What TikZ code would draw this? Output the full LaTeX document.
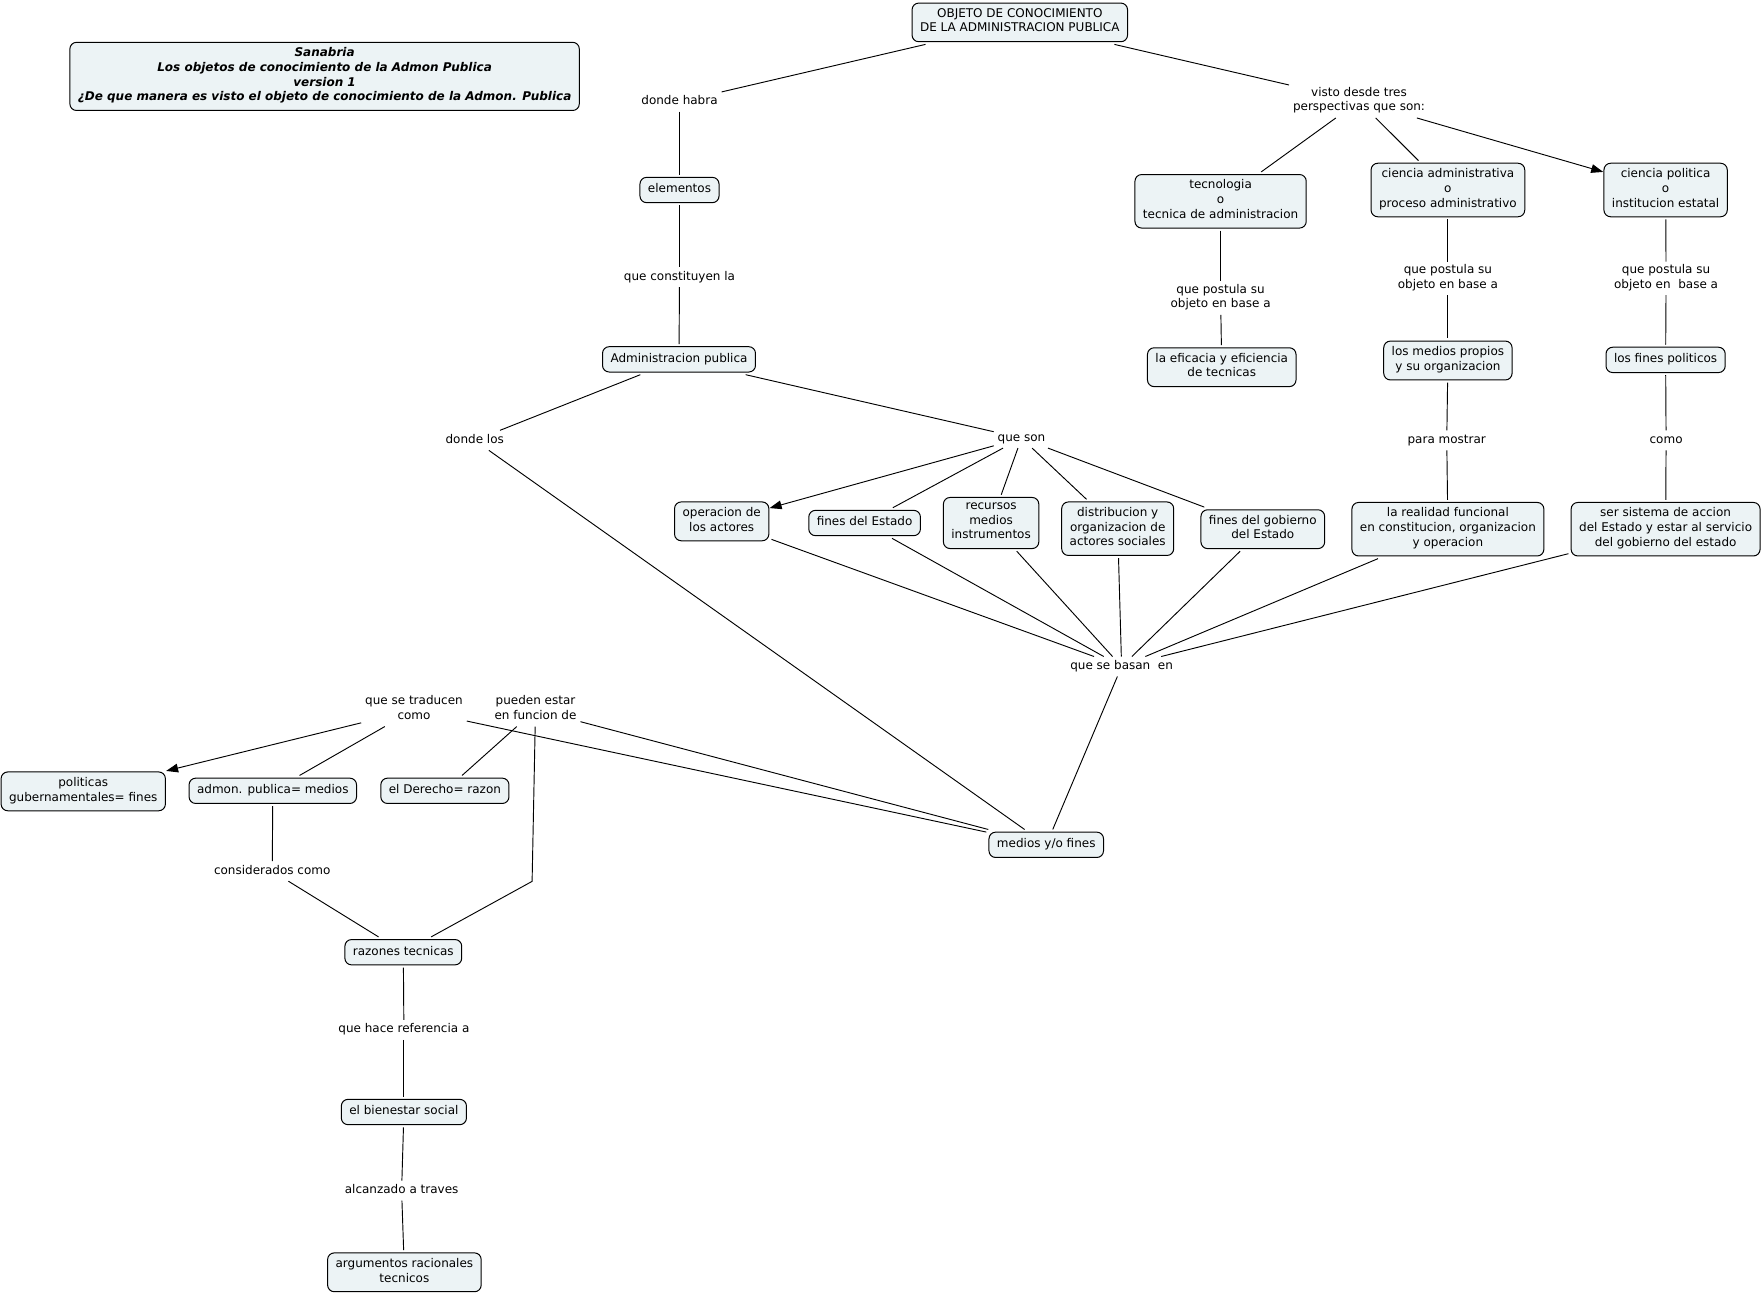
\documentclass[tikz,border=0pt]{standalone}
\usepackage{fontspec}
\setmainfont{DejaVu Sans}
\usetikzlibrary{arrows.meta}
\definecolor{boxfill}{RGB}{236,243,245}
\begin{document}
\begin{tikzpicture}[x=0.75pt,y=-0.75pt,
  concept/.style={draw=black, line width=0.75pt, fill=boxfill, rounded corners=5pt,
    align=center, inner xsep=6pt, inner ysep=4pt, outer sep=2pt,
    font=\fontsize{9}{11}\selectfont,
    execute at begin node={\strut}, execute at end node={\strut}},
  linklbl/.style={align=center, inner xsep=2pt, inner ysep=1pt, outer sep=1pt,
    font=\fontsize{9}{11}\selectfont,
    execute at begin node={\strut}, execute at end node={\strut}},
  conn/.style={line width=0.7pt},
  arr/.style={conn, -{Triangle[length=9pt,width=6.5pt]}, shorten >=-1.5pt},
]
\useasboundingbox (0,0) rectangle (1764,1293);
\begin{scope}[shift={(0,1.6)}]
% concepts
\node[concept, font=\fontsize{9}{11}\selectfont\bfseries\itshape] (title) at (324.6,74.8)
  {Sanabria\\Los objetos de conocimiento de la Admon Publica\\version 1\\¿De que manera es visto el objeto de conocimiento de la Admon. Publica};
\node[concept] (objeto) at (1019.8,20.8) {OBJETO DE CONOCIMIENTO\\DE LA ADMINISTRACION PUBLICA};
\node[concept] (elementos) at (679.5,188.4) {elementos};
\node[concept] (admin) at (679,357.75) {Administracion publica};
\node[concept] (tecno) at (1220.6,199.7) {tecnologia\\o\\tecnica de administracion};
\node[concept] (cadm) at (1447.9,188.4) {ciencia administrativa\\o\\proceso administrativo};
\node[concept] (cpol) at (1665.6,188.4) {ciencia politica\\o\\institucion estatal};
\node[concept] (eficacia) at (1221.75,365.6) {la eficacia y eficiencia\\de tecnicas};
\node[concept] (mprop) at (1447.9,358.9) {los medios propios\\y su organizacion};
\node[concept] (fpol) at (1665.6,358.3) {los fines politicos};
\node[concept] (realidad) at (1447.9,527.6) {la realidad funcional\\en constitucion, organizacion\\y operacion};
\node[concept] (sersis) at (1665.6,527.6) {ser sistema de accion\\del Estado y estar al servicio\\del gobierno del estado};
\node[concept] (operacion) at (721.7,519.75) {operacion de\\los actores};
\node[concept] (finesE) at (864.6,521.4) {fines del Estado};
\node[concept] (recursos) at (991.1,521.4) {recursos\\medios\\instrumentos};
\node[concept] (distrib) at (1117.7,527.1) {distribucion y\\organizacion de\\actores sociales};
\node[concept] (finesG) at (1262.8,527.6) {fines del gobierno\\del Estado};
\node[concept] (medios) at (1046.25,843.2) {medios y/o fines};
\node[concept] (politicas) at (83.25,789.75) {politicas\\gubernamentales= fines};
\node[concept] (admon) at (272.8,789.2) {admon. publica= medios};
\node[concept] (derecho) at (444.9,789.2) {el Derecho= razon};
\node[concept] (razones) at (403.3,950.6) {razones tecnicas};
\node[concept] (bienestar) at (403.9,1110.4) {el bienestar social};
\node[concept] (argumentos) at (404.4,1270.7) {argumentos racionales\\tecnicos};

% linking phrases
\node[linklbl] (habra) at (679.5,100.1) {donde habra};
\node[linklbl] (constituyen) at (679.5,275.6) {que constituyen la};
\node[linklbl] (dondelos) at (474.75,438.75) {donde los};
\node[linklbl] (queson) at (1021.5,436.5) {que son};
\node[linklbl] (visto) at (1359,99.6) {visto desde tres\\perspectivas que son:};
\node[linklbl] (post1) at (1220.6,296.4) {que postula su\\objeto en base a};
\node[linklbl] (post2) at (1447.9,276.75) {que postula su\\objeto en base a};
\node[linklbl] (post3) at (1666.1,276.75) {que postula su\\objeto en\ \ base a};
\node[linklbl] (mostrar) at (1446.75,438.75) {para mostrar};
\node[linklbl] (como) at (1666.1,438.75) {como};
\node[linklbl] (basan) at (1121.6,664.9) {que se basan\ \ en};
\node[linklbl] (traducen) at (414,708.2) {que se traducen\\como};
\node[linklbl] (pueden) at (535.5,708.2) {pueden estar\\en funcion de};
\node[linklbl] (considerados) at (272.25,869.6) {considerados como};
\node[linklbl] (hace) at (403.9,1028.25) {que hace referencia a};
\node[linklbl] (alcanzado) at (401.6,1189.1) {alcanzado a traves};
\coordinate (bend) at (532.1,879.75);

% connectors
\draw[conn] (objeto) -- (habra);
\draw[conn] (habra) -- (elementos);
\draw[conn] (elementos) -- (constituyen);
\draw[conn] (constituyen) -- (admin);
\draw[conn] (admin) -- (dondelos);
\draw[conn] (admin) -- (queson);
\draw[conn] (dondelos) -- (medios);
\draw[arr] (queson) -- (operacion);
\draw[conn] (queson) -- (finesE);
\draw[conn] (queson) -- (recursos);
\draw[conn] (queson) -- (distrib);
\draw[conn] (queson) -- (finesG);
\draw[conn] (operacion) -- (basan);
\draw[conn] (finesE) -- (basan);
\draw[conn] (recursos) -- (basan);
\draw[conn] (distrib) -- (basan);
\draw[conn] (finesG) -- (basan);
\draw[conn] (realidad) -- (basan);
\draw[conn] (sersis) -- (basan);
\draw[conn] (basan) -- (medios);
\draw[conn] (objeto) -- (visto);
\draw[conn] (visto) -- (tecno);
\draw[conn] (visto) -- (cadm);
\draw[arr] (visto) -- (cpol);
\draw[conn] (tecno) -- (post1);
\draw[conn] (post1) -- (eficacia);
\draw[conn] (cadm) -- (post2);
\draw[conn] (post2) -- (mprop);
\draw[conn] (mprop) -- (mostrar);
\draw[conn] (mostrar) -- (realidad);
\draw[conn] (cpol) -- (post3);
\draw[conn] (post3) -- (fpol);
\draw[conn] (fpol) -- (como);
\draw[conn] (como) -- (sersis);
\draw[conn] (medios) -- (traducen);
\draw[conn] (medios) -- (pueden);
\draw[arr] (traducen) -- (politicas);
\draw[conn] (traducen) -- (admon);
\draw[conn] (pueden) -- (derecho);
\draw[conn] (pueden) -- (bend) -- (razones);
\draw[conn] (admon) -- (considerados);
\draw[conn] (considerados) -- (razones);
\draw[conn] (razones) -- (hace);
\draw[conn] (hace) -- (bienestar);
\draw[conn] (bienestar) -- (alcanzado);
\draw[conn] (alcanzado) -- (argumentos);
\end{scope}
\end{tikzpicture}
\end{document}
